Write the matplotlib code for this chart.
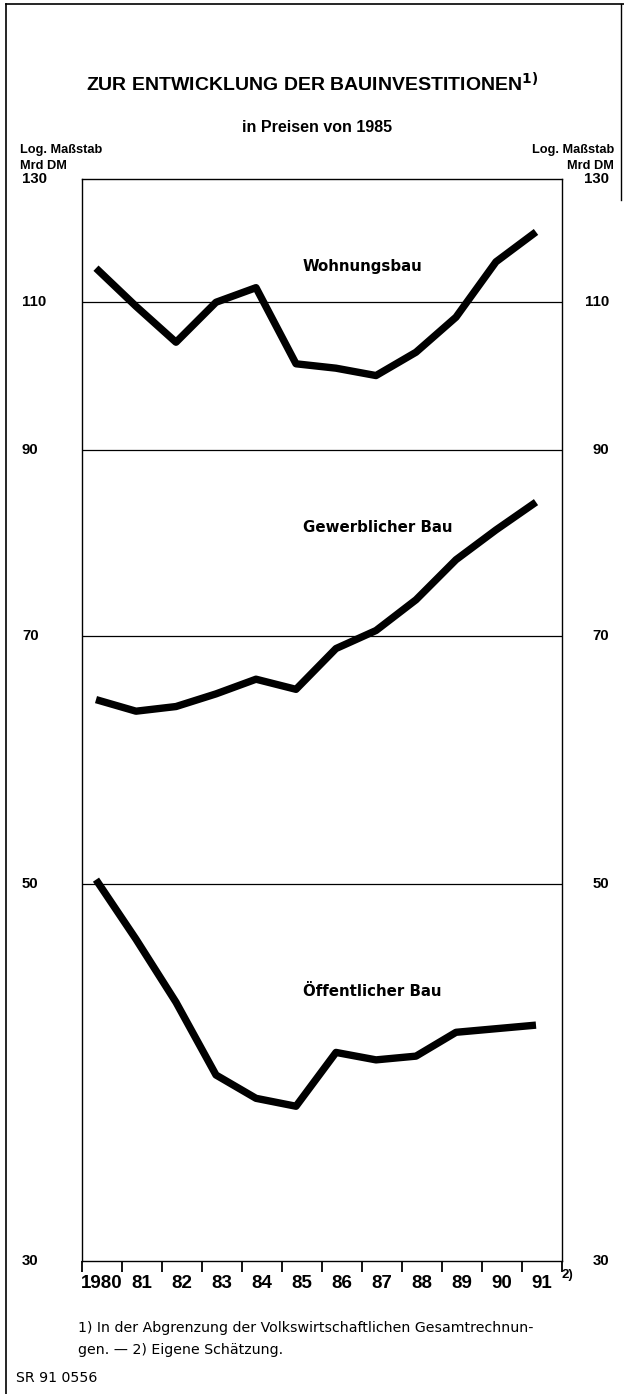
import matplotlib
matplotlib.use("Agg")
import matplotlib.pyplot as plt
from matplotlib.ticker import FixedLocator, NullFormatter, NullLocator

plt.rcParams['font.family'] = ['Liberation Sans', 'DejaVu Sans']

years = [1980, 1981, 1982, 1983, 1984, 1985, 1986, 1987, 1988, 1989, 1990, 1991]
year_labels = ["1980", "81", "82", "83", "84", "85", "86", "87", "88", "89", "90", "91"]
wohnungsbau = [115.2, 109.4, 104.2, 110.0, 112.2, 101.2, 100.6, 99.6, 102.8, 107.8, 116.2, 121.0]
gewerblich = [64.2, 63.2, 63.6, 64.7, 66.0, 65.1, 68.8, 70.5, 73.5, 77.6, 80.8, 83.9]
oeffentlich = [50.3, 46.4, 42.6, 38.6, 37.4, 37.0, 39.8, 39.4, 39.6, 40.9, 41.1, 41.3]
y_ticks = [130, 110, 90, 70, 50, 30]
grid_values = [110, 90, 70, 50]

W, H = 624, 1394
fig = plt.figure(figsize=(W / 100, H / 100), dpi=100)

def fx(px):
    return px / W

def fy(py):
    return 1 - py / H

ax = fig.add_axes([fx(82), fy(1261), fx(562) - fx(82), fy(179) - fy(1261)])
ax.set_yscale('log')
ax.set_ylim(30, 130)
x0 = years[0] - 0.35
ax.set_xlim(x0, x0 + len(years))

for g in grid_values:
    ax.axhline(g, color='black', lw=0.9, zorder=1)

for series in (wohnungsbau, gewerblich, oeffentlich):
    ax.plot(years, series, color='black', lw=5.3, solid_joinstyle='round',
            solid_capstyle='butt', zorder=3)

for s in ax.spines.values():
    s.set_linewidth(1.0)

ax.yaxis.set_major_locator(NullLocator())
ax.yaxis.set_minor_locator(NullLocator())
ax.yaxis.set_major_formatter(NullFormatter())
ax.yaxis.set_minor_formatter(NullFormatter())

bounds = [x0 + k for k in range(len(years) + 1)]
ax.xaxis.set_major_locator(FixedLocator(bounds))
ax.xaxis.set_major_formatter(NullFormatter())
ax.tick_params(axis='x', which='major', direction='out', length=8, width=1.3)
centers = [x0 + k + 0.5 for k in range(len(years))]
ax.xaxis.set_minor_locator(FixedLocator(centers))
ax.set_xticklabels(year_labels, minor=True)
ax.tick_params(axis='x', which='minor', length=0, pad=10, labelsize=13.5)
for lab in ax.get_xticklabels(minor=True):
    lab.set_fontweight('bold')

ax.text(1.0, -0.013, "2)", transform=ax.transAxes, ha='left', va='center',
        fontsize=9.5, fontweight='bold')

ytr = ax.get_yaxis_transform()
for v in y_ticks:
    ax.text(-(82 - 22) / 480, v, str(v), transform=ytr, ha='left',
            va='center', fontsize=10.8, fontweight='bold')
    ax.text(1 + (609 - 562) / 480, v, str(v), transform=ytr, ha='right',
            va='center', fontsize=10.8, fontweight='bold')

lab_x = x0 + (303 - 82) / 40
lab_font = ['DejaVu Sans']
ax.text(lab_x, 115.5, "Wohnungsbau", ha='left', va='center',
        fontsize=10.8, fontweight='bold', family=lab_font)
ax.text(lab_x, 81.1, "Gewerblicher Bau", ha='left', va='center',
        fontsize=10.8, fontweight='bold', family=lab_font)
ax.text(lab_x, 43.2, "Öffentlicher Bau", ha='left', va='center',
        fontsize=10.8, fontweight='bold', family=lab_font)

fig.text(fx(312), fy(84), "ZUR ENTWICKLUNG DER BAUINVESTITIONEN$^{\\mathbf{1)}}$",
         ha='center', va='center', fontsize=14, fontweight='bold')
fig.text(fx(317), fy(128), "in Preisen von 1985", ha='center', va='center',
         fontsize=11.5, fontweight='bold')
fig.text(fx(20), fy(150), "Log. Maßstab", ha='left', va='center', fontsize=9.2,
         fontweight='bold')
fig.text(fx(20), fy(166), "Mrd DM", ha='left', va='center', fontsize=9.2,
         fontweight='bold')
fig.text(fx(614), fy(150), "Log. Maßstab", ha='right', va='center', fontsize=9.2,
         fontweight='bold')
fig.text(fx(614), fy(166), "Mrd DM", ha='right', va='center', fontsize=9.2,
         fontweight='bold')

fn_font = ['DejaVu Sans']
fig.text(fx(78), fy(1328), "1) In der Abgrenzung der Volkswirtschaftlichen Gesamtrechnun-",
         ha='left', va='center', fontsize=10.2, family=fn_font)
fig.text(fx(78), fy(1350), "gen. — 2) Eigene Schätzung.", ha='left', va='center',
         fontsize=10.2, family=fn_font)
fig.text(fx(16), fy(1378), "SR 91 0556", ha='left', va='center', fontsize=10.2,
         family=fn_font)

# frame around the figure
fig.add_artist(plt.Line2D([fx(6), fx(6)], [fy(4), 0], color='black', lw=1.2,
                          transform=fig.transFigure))
fig.add_artist(plt.Line2D([fx(6), 1], [fy(4), fy(4)], color='black', lw=1.2,
                          transform=fig.transFigure))
fig.add_artist(plt.Line2D([fx(621), fx(621)], [fy(4), fy(200)], color='black', lw=1.0,
                          transform=fig.transFigure))

fig.savefig("out.png", dpi=100)
